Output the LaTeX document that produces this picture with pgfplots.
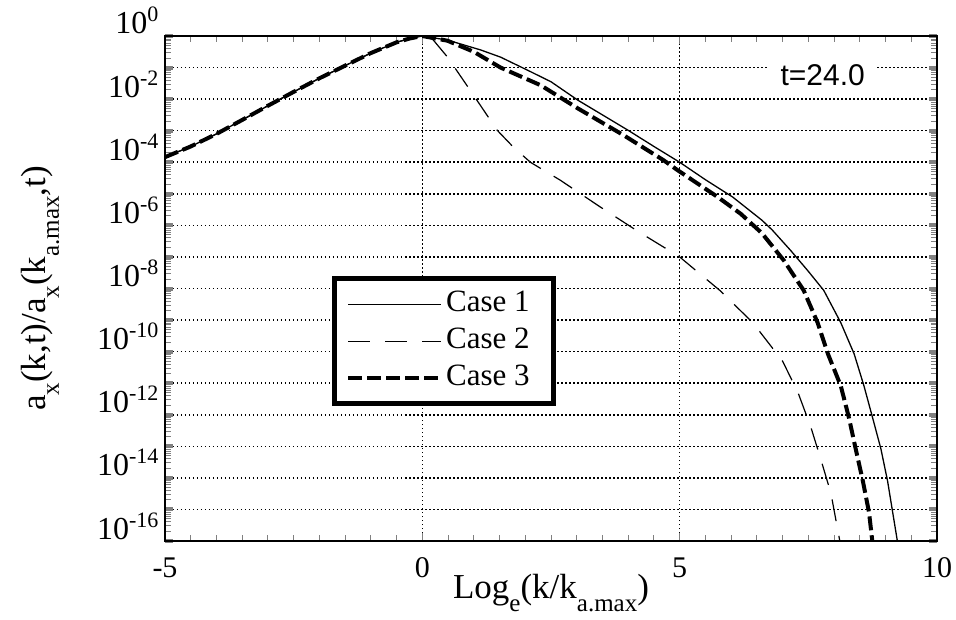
\documentclass[border=0pt]{standalone}
\usepackage{fontspec}
\setmainfont{Liberation Serif}
\newfontfamily\hel{Liberation Sans}
\usepackage{pgfplots}
\pgfplotsset{compat=1.18}
\newcommand\lo[1]{\raisebox{-13pt}{\fontsize{25}{25}\selectfont #1}}
\newcommand\hi[1]{\raisebox{12pt}{\fontsize{22}{22}\selectfont #1}}
\def\minorlist{2e-16}
\foreach \e in {-16,...,-1}{\foreach \m in {2,...,9}{\xdef\minorlist{\minorlist,\m e\e}}}
\begin{document}
\begin{tikzpicture}
\begin{axis}[
 at={(0,0)}, anchor=south west,
 scale only axis, width=772pt, height=505pt,
 xmin=-5, xmax=10, ymode=log, ymin=1e-16, ymax=1,
 xtick={-5,0,5,10}, xticklabels={-5,0,5,10},
 minor x tick num=9,
 ytick={1e-16,1e-15,1e-14,1e-13,1e-12,1e-11,1e-10,1e-9,1e-8,1e-7,1e-6,1e-5,1e-4,1e-3,1e-2,1e-1,1},
 yticklabels={10\hi{-16},,10\hi{-14},,10\hi{-12},,10\hi{-10},,10\hi{-8},,10\hi{-6},,10\hi{-4},,10\hi{-2},,10\hi{0}},
 minor ytick/.expanded={\minorlist},
 tick align=inside,
 major tick length=8pt, minor tick length=6pt,
 major y tick style={line width=4pt},
 minor tick style={line width=1pt},
 major x tick style={line width=1pt},
 axis line style={line width=2pt},
 grid=major,
 major grid style={line width=1.5pt, dash pattern=on 1.5pt off 2.5pt, black},
 xticklabel style={font=\fontsize{30}{33}\selectfont, anchor=base, yshift=-36pt},
 yticklabel style={font=\fontsize{32}{35}\selectfont, anchor=base east, xshift=-3pt, yshift=2pt},
 xlabel={Log\lo{e}(k/k\lo{a.max})},
 xlabel style={font=\fontsize{35}{38}\selectfont, at={(axis description cs:0.5,0)}, anchor=base, yshift=-57pt},
 ylabel={a\lo{x}(k,t)/a\lo{x}(k\lo{a.max},t)},
 ylabel style={font=\fontsize{35}{38}\selectfont, at={(axis description cs:0,0.5)}, anchor=base, yshift=119pt},
 legend style={at={(rel axis cs:0.2165,0.5238)}, anchor=north west, draw=black, line width=5pt,
   font=\fontsize{31}{34}\selectfont, inner xsep=11.5pt, inner ysep=11pt, row sep=8pt,
   nodes={inner xsep=0pt, inner ysep=0pt, text height=22pt, text depth=7pt},
   /tikz/every odd column/.append style={column sep=3pt}},
 legend cell align=left,
 legend image code/.code={\draw[#1] (0pt,0pt) -- (93pt,0pt);},
]
\addplot[black, line width=1.3pt] coordinates {
(-5,1.45e-4) (-4.5,3.16e-4) (-4,7.9e-4) (-3.5,2.19e-3) (-3,6.17e-3) (-2.5,1.70e-2) (-2,4.57e-2) (-1.5,0.115) (-1,0.288) (-0.5,0.631) (-0.25,0.83) (0,1)
(0.49,0.741) (1.13,0.363) (1.52,0.214) (2.04,0.0832) (2.5,0.0355) (3.02,9.3e-3) (3.5,3.16e-3) (3.99,1.05e-3) (4.5,3.16e-4) (5,1e-4) (5.5,2.8e-5) (6.03,7.9e-6) (6.6,1.45e-6) (6.8,7.1e-7) (7.16,1.58e-7) (7.5,3.5e-8) (7.8,8.7e-9) (8.13,8.3e-10) (8.39,8.5e-11) (8.58,8.3e-12) (8.75,7.9e-13) (8.91,8.3e-14) (9.04,7.9e-15) (9.14,7.9e-16) (9.24,7.9e-17)
};
\addlegendentry{Case 1\kern12pt}
\addplot[black, line width=1.2pt, dash pattern=on 22pt off 15pt] coordinates {
(-5,1.45e-4) (-4.5,3.16e-4) (-4,7.9e-4) (-3.5,2.19e-3) (-3,6.17e-3) (-2.5,1.70e-2) (-2,4.57e-2) (-1.5,0.115) (-1,0.288) (-0.5,0.631) (-0.25,0.83) (0,1)
(0.2,0.79) (0.49,0.214) (0.88,0.0251) (1.19,4.5e-3) (1.45,1.05e-3) (1.77,3.0e-4) (2.1,1e-4) (2.68,2.7e-5) (3.46,3.8e-6) (4.2,6.3e-7) (5.0,1e-7) (5.78,8.7e-9) (6.42,8.3e-10) (7.0,5.0e-11) (7.3,5.0e-12) (7.55,4.0e-13) (7.74,4.0e-14) (7.94,3.2e-15) (8.1,1.26e-16) (8.15,5e-17)
};
\addlegendentry{Case 2\kern12pt}
\addplot[black, line width=4pt, dash pattern=on 14pt off 5pt] coordinates {
(-5,1.45e-4) (-4.5,3.16e-4) (-4,7.9e-4) (-3.5,2.19e-3) (-3,6.17e-3) (-2.5,1.70e-2) (-2,4.57e-2) (-1.5,0.115) (-1,0.288) (-0.5,0.631) (-0.25,0.83) (0,1)
(0.49,0.708) (1.0,0.316) (1.52,0.1) (2.30,0.0275) (3.02,5.1e-3) (3.91,7.2e-4) (4.69,1.15e-4) (4.96,5.6e-5) (5.74,7.9e-6) (6.19,2.3e-6) (6.6,5.6e-7) (7.02,7.9e-8) (7.41,8.7e-9) (7.68,8.3e-10) (7.88,8.5e-11) (8.13,8.3e-12) (8.29,7.9e-13) (8.42,8.3e-14) (8.56,7.9e-15) (8.68,7.9e-16) (8.75,7.9e-17)
};
\addlegendentry{Case 3\kern12pt}
\node[fill=white, inner xsep=12pt, inner ysep=2pt, font=\hel\fontsize{30}{33}\selectfont] at (axis cs:7.78,0.0575) {t=24.0};
\end{axis}
\pgfresetboundingbox
\path[use as bounding box] (-165pt,-79pt) rectangle (791pt,541pt);
\end{tikzpicture}
\end{document}
